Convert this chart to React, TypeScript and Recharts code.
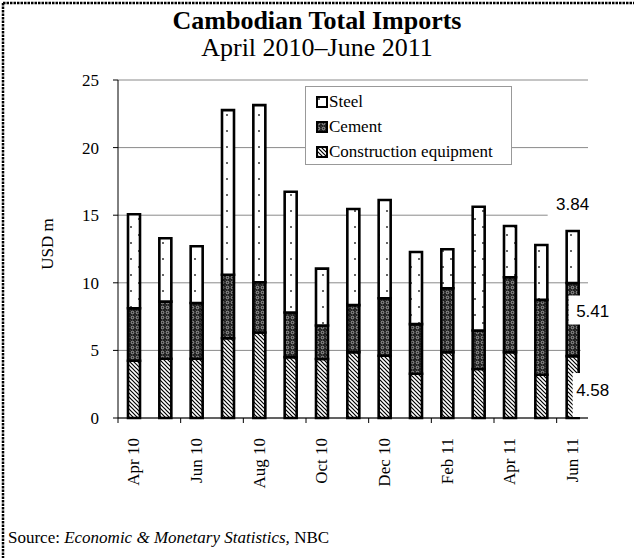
import React from "react";
import { BarChart, Bar, XAxis, YAxis, CartesianGrid, LabelList } from "recharts";

const months = ["Apr 10", "May 10", "Jun 10", "Jul 10", "Aug 10", "Sep 10", "Oct 10", "Nov 10", "Dec 10", "Jan 11", "Feb 11", "Mar 11", "Apr 11", "May 11", "Jun 11"];
const construction = [4.23, 4.38, 4.38, 5.9, 6.32, 4.5, 4.36, 4.87, 4.6, 3.27, 4.87, 3.62, 4.87, 3.2, 4.58];
const cement = [3.89, 4.23, 4.13, 4.7, 3.72, 3.3, 2.48, 3.48, 4.26, 3.67, 4.73, 2.85, 5.54, 5.54, 5.41];
const steel = [6.95, 4.69, 4.19, 12.17, 13.1, 8.94, 4.21, 7.11, 7.26, 5.34, 2.88, 9.16, 3.79, 4.06, 3.84];
const yTicks = [0, 5, 10, 15, 20, 25];
const seriesNames = ["Steel", "Cement", "Construction equipment"];

const data = months.map((m, i) => ({ month: m, construction: construction[i], cement: cement[i], steel: steel[i] }));

const W = 634;
const H = 558;
const margin = { top: 80, right: 46, bottom: 80, left: 58 };
const plotW = W - margin.left - 60 - margin.right;
const band = plotW / months.length;
const serif = "'Liberation Serif', 'Times New Roman', serif";
const sans = "'Liberation Sans', Arial, sans-serif";
const last = months.length - 1;

function CatTick(props: any) {
  const { x, y, payload } = props;
  return (
    <g>
      <line x1={x - band / 2} x2={x - band / 2} y1={y} y2={y + 5} stroke="#000" />
      <text x={x} y={y + 20} dy="0.34em" transform={`rotate(-90 ${x} ${y + 20})`} textAnchor="end" fontFamily={serif} fontSize={17} fill="#000">
        {payload.value}
      </text>
    </g>
  );
}

// value labels on the last bar only, each on a white box like the original
function endLabel(kind: "steel" | "cement" | "construction") {
  return (props: any) => {
    const { x, y, width, height, value, index } = props;
    if (index !== last) return null;
    const txt = Number(value).toFixed(2);
    if (kind === "steel") {
      const cx = x + width / 2;
      const cy = y - 27;
      return (
        <g>
          <rect x={cx - 25} y={cy - 14} width={46} height={28} fill="#fff" />
          <text x={cx} y={cy + 6} textAnchor="middle" fontFamily={sans} fontSize={17} fill="#000">{txt}</text>
        </g>
      );
    }
    if (kind === "cement") {
      const cy = y + height / 2 - 9;
      return (
        <g>
          <rect x={x + 2} y={cy - 15} width={46} height={29} fill="#fff" />
          <rect x={x + width + 2} y={cy + 14} width={30} height={y + height - cy} fill="#fff" />
          <text x={x + 9.5} y={cy + 6} fontFamily={sans} fontSize={17} fill="#000">{txt}</text>
        </g>
      );
    }
    const cy = y + height / 2 + 3;
    return (
      <g>
        <rect x={x + 6} y={cy - 17} width={42} height={y + height - cy + 16} fill="#fff" />
        <text x={x + 9.5} y={cy + 6} fontFamily={sans} fontSize={17} fill="#000">{txt}</text>
      </g>
    );
  };
}

const fills: Record<string, string> = {
  Steel: "url(#patSteel)",
  Cement: "url(#patCement)",
  "Construction equipment": "url(#patConstr)",
};

export default function App() {
  return (
    <div style={{ position: "relative", width: W, height: H, background: "#fff", overflow: "hidden" }}>
      <style>{`body{margin:0}`}</style>
      <svg width={W} height={H} style={{ position: "absolute", left: 0, top: 0 }}>
        <line x1={3} y1={3} x2={W} y2={3} stroke="#000" strokeWidth={2.5} strokeDasharray="2.5 1" />
        <line x1={3} y1={3} x2={3} y2={H} stroke="#000" strokeWidth={2.5} strokeDasharray="2.5 1" />
      </svg>
      <div style={{ position: "absolute", left: 0, top: 8, width: W, textAlign: "center", fontFamily: serif, fontSize: 26, fontWeight: "bold", lineHeight: "26px" }}>
        Cambodian Total Imports
      </div>
      <div style={{ position: "absolute", left: 0, top: 35, width: W, textAlign: "center", fontFamily: serif, fontSize: 26, lineHeight: "26px" }}>
        April 2010–June 2011
      </div>
      <div style={{ position: "absolute", left: 0, top: 0 }}>
        <BarChart width={W} height={H} data={data} margin={margin} barSize={12}>
          <defs>
            <pattern id="patSteel" width={16} height={16} patternUnits="userSpaceOnUse">
              <rect width={16} height={16} fill="#fff" />
              <circle cx={3} cy={3} r={1} fill="#333" />
              <circle cx={11} cy={11} r={1} fill="#333" />
            </pattern>
            <pattern id="patCement" width={5} height={5} patternUnits="userSpaceOnUse">
              <rect width={5} height={5} fill="#222" />
              <circle cx={2.5} cy={2.5} r={1.3} fill="none" stroke="#bbb" strokeWidth={0.8} />
              <circle cx={0} cy={0} r={0.6} fill="#888" />
            </pattern>
            <pattern id="patConstr" width={4} height={4} patternUnits="userSpaceOnUse">
              <rect width={4} height={4} fill="#fff" />
              <path d="M-1,-1 L5,5 M-1,3 L1,5 M3,-1 L5,1" stroke="#000" strokeWidth={1.2} />
            </pattern>
          </defs>
          <CartesianGrid vertical={false} stroke="#8a8a8a" strokeWidth={1} />
          <XAxis
            dataKey="month"
            interval={1}
            tick={<CatTick />}
            tickLine={false}
            tickSize={0}
            tickMargin={0}
            height={60}
            axisLine={{ stroke: "#000" }}
          />
          <YAxis
            domain={[0, 25]}
            ticks={yTicks}
            width={60}
            tickSize={5}
            tickMargin={14}
            axisLine={{ stroke: "#000" }}
            tickLine={{ stroke: "#000" }}
            tick={{ fontFamily: serif, fontSize: 17, fill: "#000" }}
          />
          <YAxis yAxisId="frame" orientation="right" domain={[0, 25]} width={0} tick={false} tickLine={false} axisLine={{ stroke: "#8a8a8a", strokeWidth: 1.5 }} />
          <Bar dataKey="construction" stackId="a" fill={fills["Construction equipment"]} stroke="#000" strokeWidth={2.6} isAnimationActive={false}>
            <LabelList dataKey="construction" content={endLabel("construction")} />
          </Bar>
          <Bar dataKey="cement" stackId="a" fill={fills.Cement} stroke="#000" strokeWidth={2.6} isAnimationActive={false}>
            <LabelList dataKey="cement" content={endLabel("cement")} />
          </Bar>
          <Bar dataKey="steel" stackId="a" fill={fills.Steel} stroke="#000" strokeWidth={2.6} isAnimationActive={false}>
            <LabelList dataKey="steel" content={endLabel("steel")} />
          </Bar>
        </BarChart>
      </div>
      <div
        style={{
          position: "absolute",
          left: 305,
          top: 86,
          width: 205,
          height: 75,
          border: "1px solid #999",
          background: "#fff",
          boxSizing: "content-box",
          paddingTop: 2,
        }}
      >
        {seriesNames.map((n) => (
          <div key={n} style={{ display: "flex", alignItems: "center", height: 25, paddingLeft: 10, fontFamily: serif, fontSize: 17 }}>
            <svg width={12} height={12} style={{ marginRight: 1 }}>
              <rect x={1} y={1} width={10} height={10} fill={fills[n]} stroke="#000" strokeWidth={2} />
            </svg>
            {n}
          </div>
        ))}
      </div>
      <div style={{ position: "absolute", left: 48, top: 244, fontFamily: serif, fontSize: 17, transform: "translate(-50%, -50%) rotate(-90deg)", whiteSpace: "nowrap" }}>
        USD m
      </div>
      <div style={{ position: "absolute", left: 8, top: 528, fontFamily: serif, fontSize: 17, whiteSpace: "nowrap" }}>
        Source: <i>Economic &amp; Monetary Statistics,</i> NBC
      </div>
    </div>
  );
}
